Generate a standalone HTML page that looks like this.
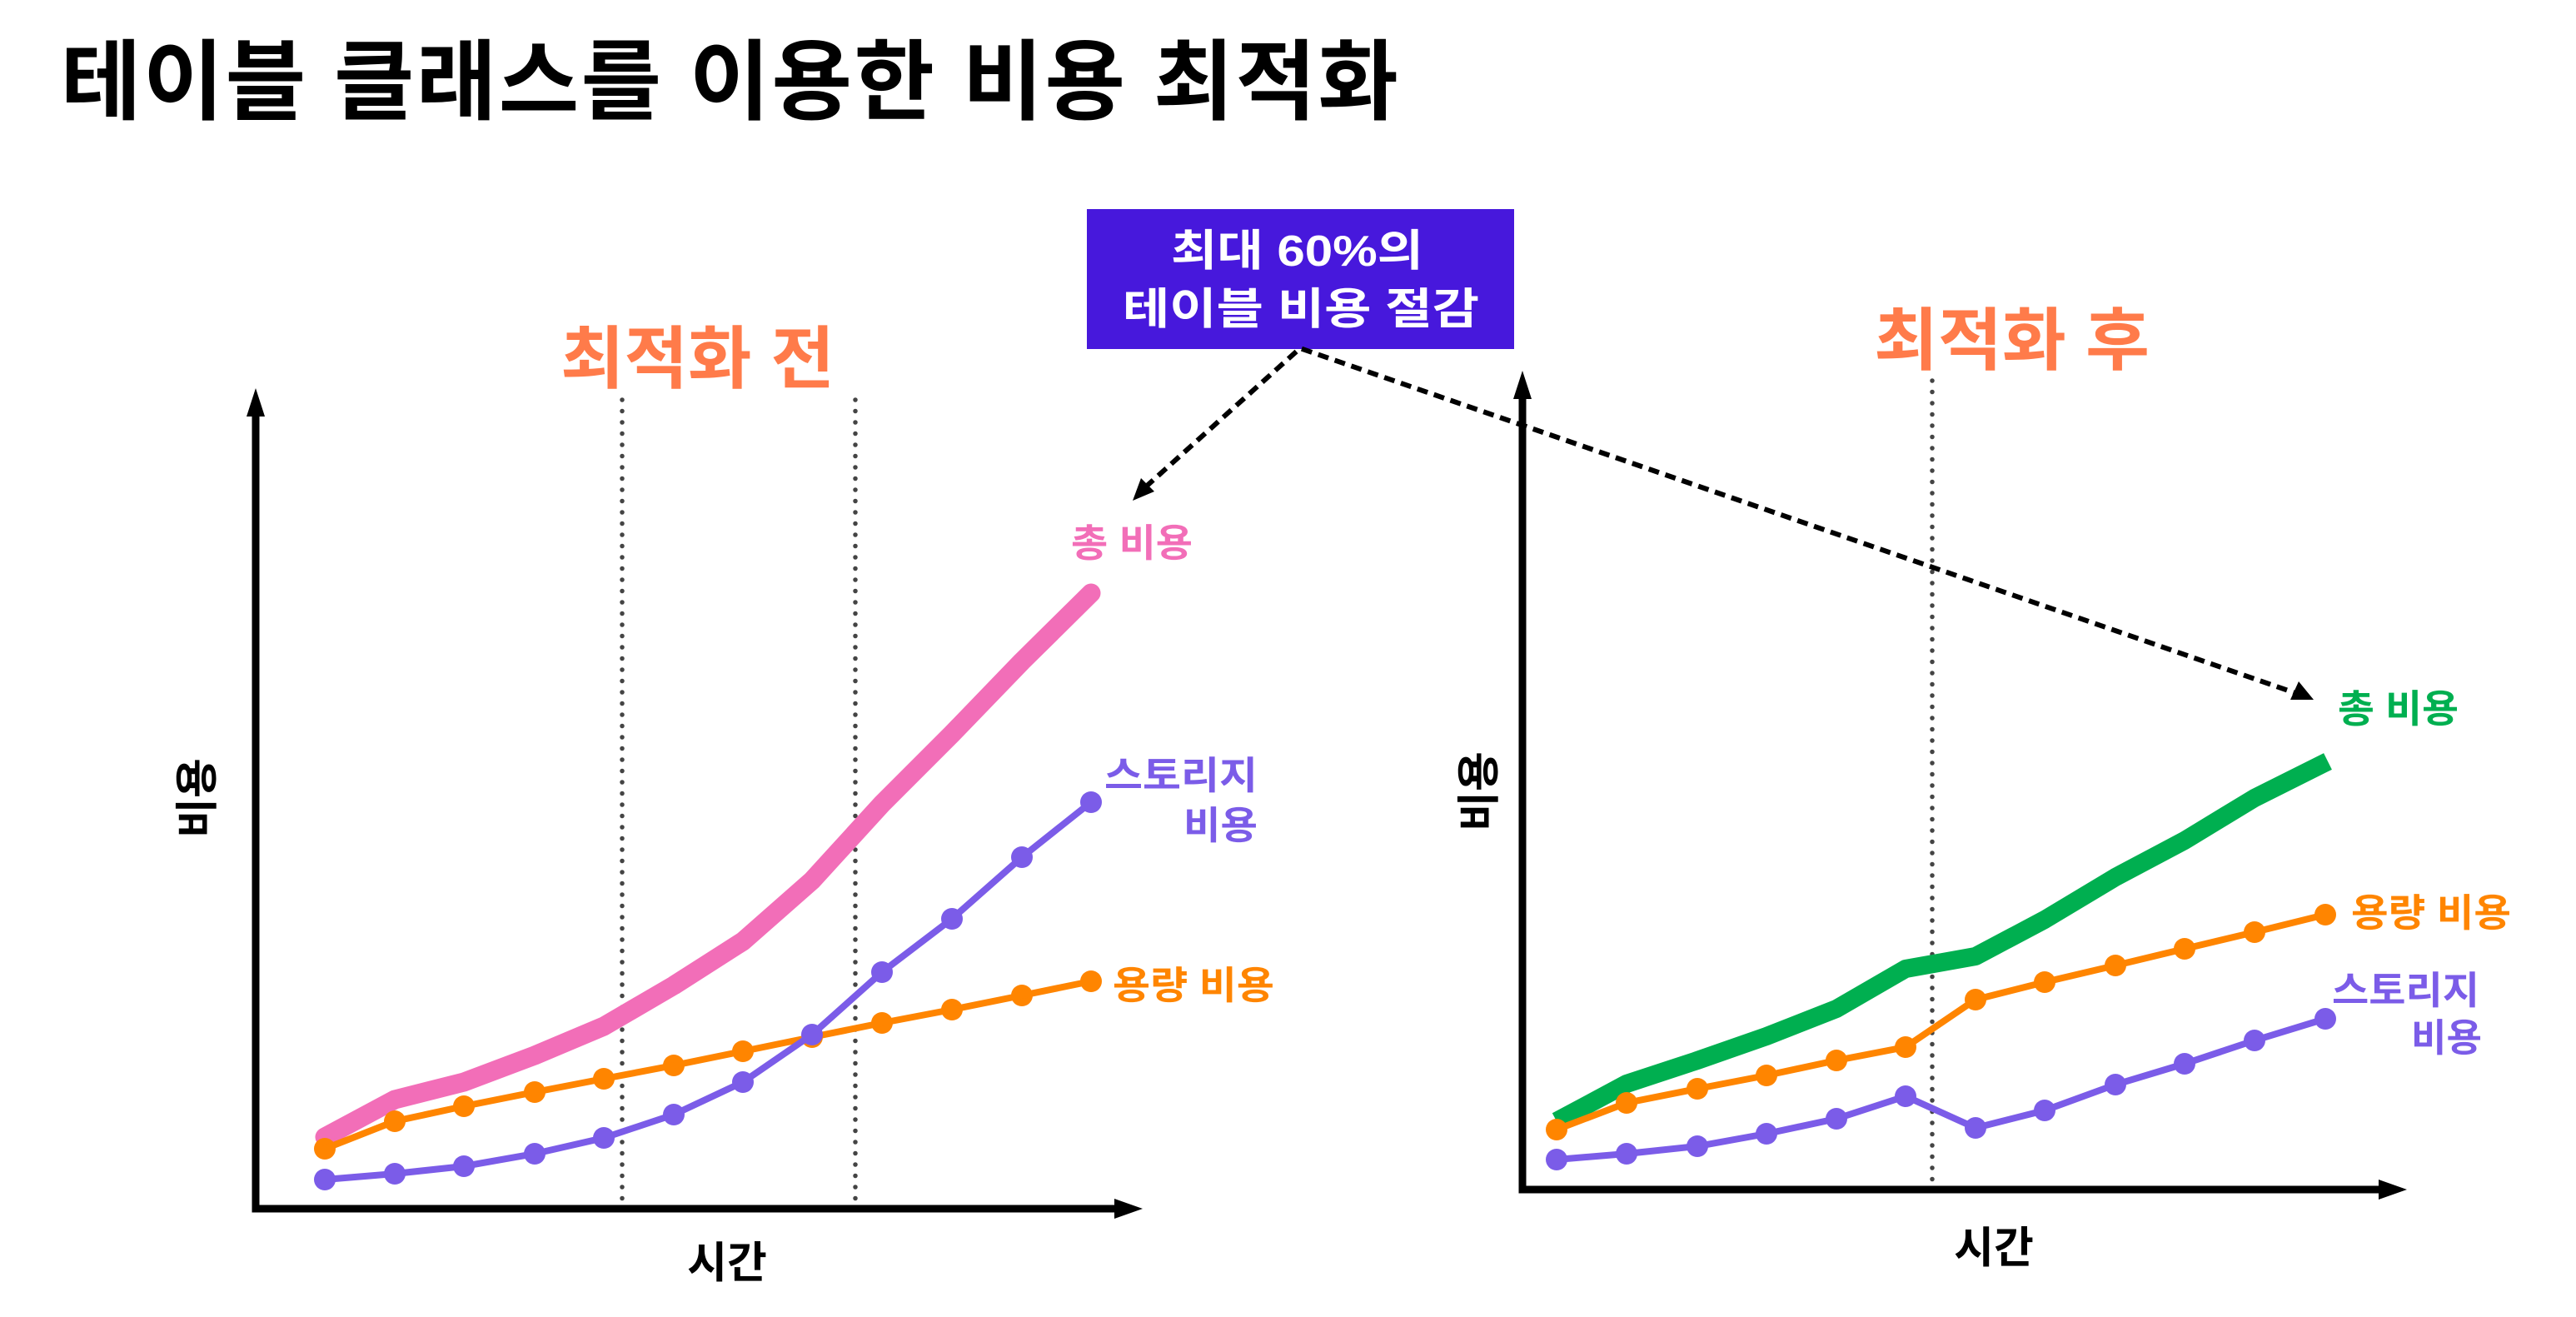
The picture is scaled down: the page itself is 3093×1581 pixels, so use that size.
<!DOCTYPE html>
<html><head><meta charset="utf-8"><style>html,body{margin:0;padding:0;background:#fff}svg{display:block}text{font-family:"Liberation Sans","Noto Sans CJK KR",sans-serif;font-weight:bold}</style></head>
<body>
<svg width="3093" height="1581" viewBox="0 0 3093 1581" xmlns="http://www.w3.org/2000/svg">
<rect width="3093" height="1581" fill="#fff"/>
<text x="73" y="135" font-size="105" fill="#000" textLength="1606" lengthAdjust="spacing">테이블 클래스를 이용한 비용 최적화</text>

<!-- box -->
<rect x="1305" y="251" width="513" height="168" fill="#4718DC"/>
<text x="1406" y="319" font-size="52" fill="#fff" textLength="303" lengthAdjust="spacingAndGlyphs">최대 60%의</text>
<text x="1348" y="389" font-size="52" fill="#fff" textLength="428" lengthAdjust="spacingAndGlyphs">테이블 비용 절감</text>

<!-- section titles -->
<text x="673" y="459" font-size="82" fill="#FF7B4A" textLength="329" lengthAdjust="spacingAndGlyphs">최적화 전</text>
<text x="2250" y="437" font-size="82" fill="#FF7B4A" textLength="331" lengthAdjust="spacingAndGlyphs">최적화 후</text>

<!-- dotted verticals -->
<g stroke="#444" stroke-width="5.5" stroke-linecap="round" stroke-dasharray="0 13.5">
<line x1="747" y1="480" x2="747" y2="1440"/>
<line x1="1027" y1="480" x2="1027" y2="1440"/>
<line x1="2320" y1="457" x2="2320" y2="1418"/>
</g>

<!-- left axes -->
<g stroke="#000" stroke-width="9" stroke-linecap="round" fill="none">
<polyline points="307,490 307,1451 1350,1451"/>
</g>
<polygon points="307,466 296,500 318,500" fill="#000"/>
<polygon points="1372,1451 1338,1439 1338,1463" fill="#000"/>
<!-- right axes -->
<g stroke="#000" stroke-width="9" stroke-linecap="round" fill="none">
<polyline points="1828,470 1828,1428 2870,1428"/>
</g>
<polygon points="1828,445 1817,479 1839,479" fill="#000"/>
<polygon points="2890,1428 2856,1416 2856,1440" fill="#000"/>

<!-- dashed arrows -->
<g stroke="#000" stroke-width="6" stroke-dasharray="13 8" fill="none">
<polyline points="1375,585 1561,418 2765,835"/>
</g>
<polygon points="1360,601 1370,574 1386,590" fill="#000"/>
<polygon points="2778,840 2750,840 2760,818" fill="#000"/>

<!-- left series -->
<polyline fill="none" stroke="#F26EB8" stroke-width="23" stroke-linejoin="round" stroke-linecap="round" points="390,1365 474,1320 557,1299 642,1267 725,1232 809,1183 892,1130 975,1057 1059,965 1143,881 1227,794 1310,712"/>
<g fill="#FF8500"><circle cx="390" cy="1379" r="13"/><circle cx="474" cy="1346" r="13"/><circle cx="557" cy="1328" r="13"/><circle cx="642" cy="1311" r="13"/><circle cx="725" cy="1295" r="13"/><circle cx="809" cy="1279" r="13"/><circle cx="892" cy="1262" r="13"/><circle cx="975" cy="1245" r="13"/><circle cx="1059" cy="1228" r="13"/><circle cx="1143" cy="1212" r="13"/><circle cx="1227" cy="1195" r="13"/><circle cx="1310" cy="1178" r="13"/></g>
<polyline fill="none" stroke="#FF8500" stroke-width="8" points="390,1379 474,1346 557,1328 642,1311 725,1295 809,1279 892,1262 975,1245 1059,1228 1143,1212 1227,1195 1310,1178"/>
<polyline fill="none" stroke="#7B5CE8" stroke-width="8" points="390,1416 474,1409 557,1400 642,1385 725,1366 809,1338 892,1299 975,1242 1059,1167 1143,1103 1227,1029 1310,963"/>
<g fill="#7B5CE8"><circle cx="390" cy="1416" r="13"/><circle cx="474" cy="1409" r="13"/><circle cx="557" cy="1400" r="13"/><circle cx="642" cy="1385" r="13"/><circle cx="725" cy="1366" r="13"/><circle cx="809" cy="1338" r="13"/><circle cx="892" cy="1299" r="13"/><circle cx="975" cy="1242" r="13"/><circle cx="1059" cy="1167" r="13"/><circle cx="1143" cy="1103" r="13"/><circle cx="1227" cy="1029" r="13"/><circle cx="1310" cy="963" r="13"/></g>

<!-- right series -->
<polyline fill="none" stroke="#00AF50" stroke-width="22" stroke-linejoin="round" points="1869,1346 1953,1301 2038,1273 2121,1244 2205,1211 2288,1163 2372,1148 2455,1104 2540,1053 2623,1009 2707,958 2795,914"/>
<polyline fill="none" stroke="#FF8500" stroke-width="8" points="1869,1356 1953,1324 2038,1307 2121,1291 2205,1273 2288,1257 2372,1200 2455,1179 2540,1159 2623,1139 2707,1119 2792,1098"/>
<g fill="#FF8500"><circle cx="1869" cy="1356" r="13"/><circle cx="1953" cy="1324" r="13"/><circle cx="2038" cy="1307" r="13"/><circle cx="2121" cy="1291" r="13"/><circle cx="2205" cy="1273" r="13"/><circle cx="2288" cy="1257" r="13"/><circle cx="2372" cy="1200" r="13"/><circle cx="2455" cy="1179" r="13"/><circle cx="2540" cy="1159" r="13"/><circle cx="2623" cy="1139" r="13"/><circle cx="2707" cy="1119" r="13"/><circle cx="2792" cy="1098" r="13"/></g>
<polyline fill="none" stroke="#7B5CE8" stroke-width="8" points="1869,1392 1953,1385 2038,1376 2121,1361 2205,1343 2288,1316 2372,1354 2455,1333 2540,1302 2623,1277 2707,1249 2792,1223"/>
<g fill="#7B5CE8"><circle cx="1869" cy="1392" r="13"/><circle cx="1953" cy="1385" r="13"/><circle cx="2038" cy="1376" r="13"/><circle cx="2121" cy="1361" r="13"/><circle cx="2205" cy="1343" r="13"/><circle cx="2288" cy="1316" r="13"/><circle cx="2372" cy="1354" r="13"/><circle cx="2455" cy="1333" r="13"/><circle cx="2540" cy="1302" r="13"/><circle cx="2623" cy="1277" r="13"/><circle cx="2707" cy="1249" r="13"/><circle cx="2792" cy="1223" r="13"/></g>

<!-- labels left -->
<text x="1286" y="668" font-size="46" fill="#F26EB8" textLength="146" lengthAdjust="spacingAndGlyphs">총 비용</text>
<text x="1326" y="947" font-size="46" fill="#7B5CE8" textLength="184" lengthAdjust="spacingAndGlyphs">스토리지</text>
<text x="1421" y="1007" font-size="46" fill="#7B5CE8" textLength="89" lengthAdjust="spacingAndGlyphs">비용</text>
<text x="1336" y="1199" font-size="46" fill="#FF8500" textLength="194" lengthAdjust="spacingAndGlyphs">용량 비용</text>
<!-- labels right -->
<text x="2807" y="867" font-size="46" fill="#00AF50" textLength="145" lengthAdjust="spacingAndGlyphs">총 비용</text>
<text x="2823" y="1112" font-size="46" fill="#FF8500" textLength="192" lengthAdjust="spacingAndGlyphs">용량 비용</text>
<text x="2800" y="1205" font-size="46" fill="#7B5CE8" textLength="177" lengthAdjust="spacingAndGlyphs">스토리지</text>
<text x="2895" y="1262" font-size="46" fill="#7B5CE8" textLength="85" lengthAdjust="spacingAndGlyphs">비용</text>

<!-- axis titles -->
<text x="873" y="1534" font-size="52" fill="#000" text-anchor="middle">시간</text>
<text x="2394" y="1516" font-size="52" fill="#000" text-anchor="middle">시간</text>
<text transform="translate(255,958) rotate(-90)" font-size="52" fill="#000" text-anchor="middle">비용</text>
<text transform="translate(1794,950) rotate(-90)" font-size="52" fill="#000" text-anchor="middle">비용</text>
</svg>
</body></html>
